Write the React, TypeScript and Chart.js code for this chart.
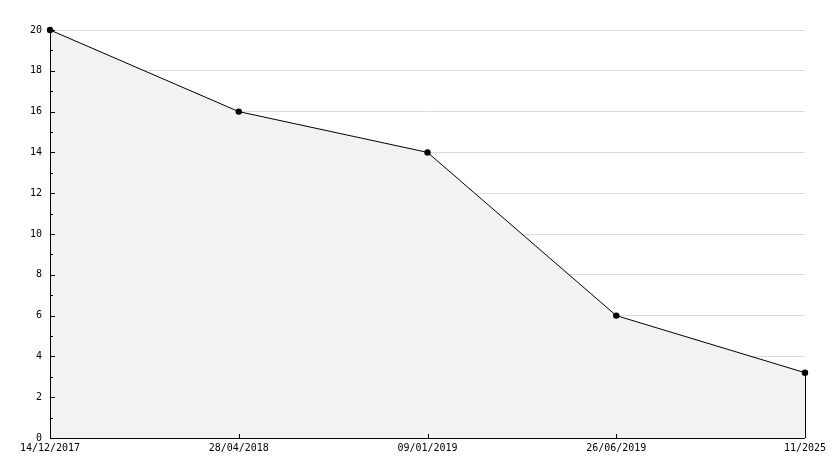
import React, { useEffect, useRef } from "react";
import { Chart, registerables } from "chart.js";

Chart.register(...registerables);

const categories = ["14/12/2017", "28/04/2018", "09/01/2019", "26/06/2019", "11/2025"];
const values = [20, 16, 14, 6, 3.2];
const yMin = 0;
const yMax = 20;
const yMajorStep = 2;

const FONT = { family: "'DejaVu Sans Mono', monospace", size: 10 };

const axisPlugin = {
  id: "axisDecor",
  afterDatasetsDraw(chart: any) {
    const { ctx, chartArea, scales } = chart;
    const x = scales.x;
    const y = scales.y;
    ctx.save();
    ctx.strokeStyle = "#000";
    ctx.lineWidth = 1;
    ctx.beginPath();
    ctx.moveTo(Math.round(chartArea.left) + 0.5, chartArea.top);
    ctx.lineTo(Math.round(chartArea.left) + 0.5, Math.round(chartArea.bottom) + 0.5);
    ctx.lineTo(chartArea.right, Math.round(chartArea.bottom) + 0.5);
    for (let v = yMin; v <= yMax; v += 1) {
      const py = Math.round(y.getPixelForValue(v)) + 0.5;
      const len = v % yMajorStep === 0 ? 5 : 3;
      ctx.moveTo(chartArea.left, py);
      ctx.lineTo(chartArea.left + len, py);
    }
    categories.forEach((_, i) => {
      const px = Math.round(x.getPixelForValue(i)) + 0.5;
      ctx.moveTo(px, chartArea.bottom);
      ctx.lineTo(px, chartArea.bottom - 4);
    });
    const last = values.length - 1;
    const lx = Math.round(x.getPixelForValue(last)) + 0.5;
    ctx.moveTo(lx, y.getPixelForValue(values[last]));
    ctx.lineTo(lx, y.getPixelForValue(0));
    ctx.stroke();
    ctx.restore();
  },
};

export default function App() {
  const ref = useRef<HTMLCanvasElement>(null);
  useEffect(() => {
    document.body.style.margin = "0";
    const chart = new Chart(ref.current!, {
      type: "line",
      data: {
        labels: categories,
        datasets: [
          {
            data: values,
            borderColor: "#000",
            borderWidth: 1,
            backgroundColor: "#f2f2f2",
            fill: "origin",
            tension: 0,
            clip: false,
            pointRadius: 3.2,
            pointHoverRadius: 3.2,
            pointBackgroundColor: "#000",
            pointBorderColor: "#000",
            pointBorderWidth: 0,
          },
        ],
      },
      options: {
        animation: false,
        responsive: false,
        devicePixelRatio: 1,
        layout: { padding: { top: 30, right: 29, left: 0, bottom: 0 } },
        plugins: { legend: { display: false }, tooltip: { enabled: false } },
        scales: {
          x: {
            type: "category",
            offset: false,
            grid: { display: false, drawTicks: false },
            border: { display: false },
            ticks: { color: "#000", font: FONT, padding: 4, maxRotation: 0, autoSkip: false },
            afterFit(scale: any) {
              scale.height = 30;
            },
          },
          y: {
            min: yMin,
            max: yMax,
            grid: {
              drawTicks: false,
              color: (c: any) => (c.tick && c.tick.value % yMajorStep === 0 ? "#dcdcdc" : "rgba(0,0,0,0)"),
            },
            border: { display: false },
            ticks: {
              stepSize: 1,
              color: "#000",
              font: FONT,
              padding: 8,
              callback: (v: any) => (Number(v) % yMajorStep === 0 ? String(v) : ""),
            },
            afterFit(scale: any) {
              scale.width = 50;
            },
          },
        },
      },
      plugins: [axisPlugin],
    });
    return () => chart.destroy();
  }, []);
  return (
    <div style={{ position: "fixed", left: 0, top: 0, width: 834, height: 468, background: "#fff" }}>
      <canvas ref={ref} width={834} height={468} style={{ width: 834, height: 468, display: "block" }} />
    </div>
  );
}
